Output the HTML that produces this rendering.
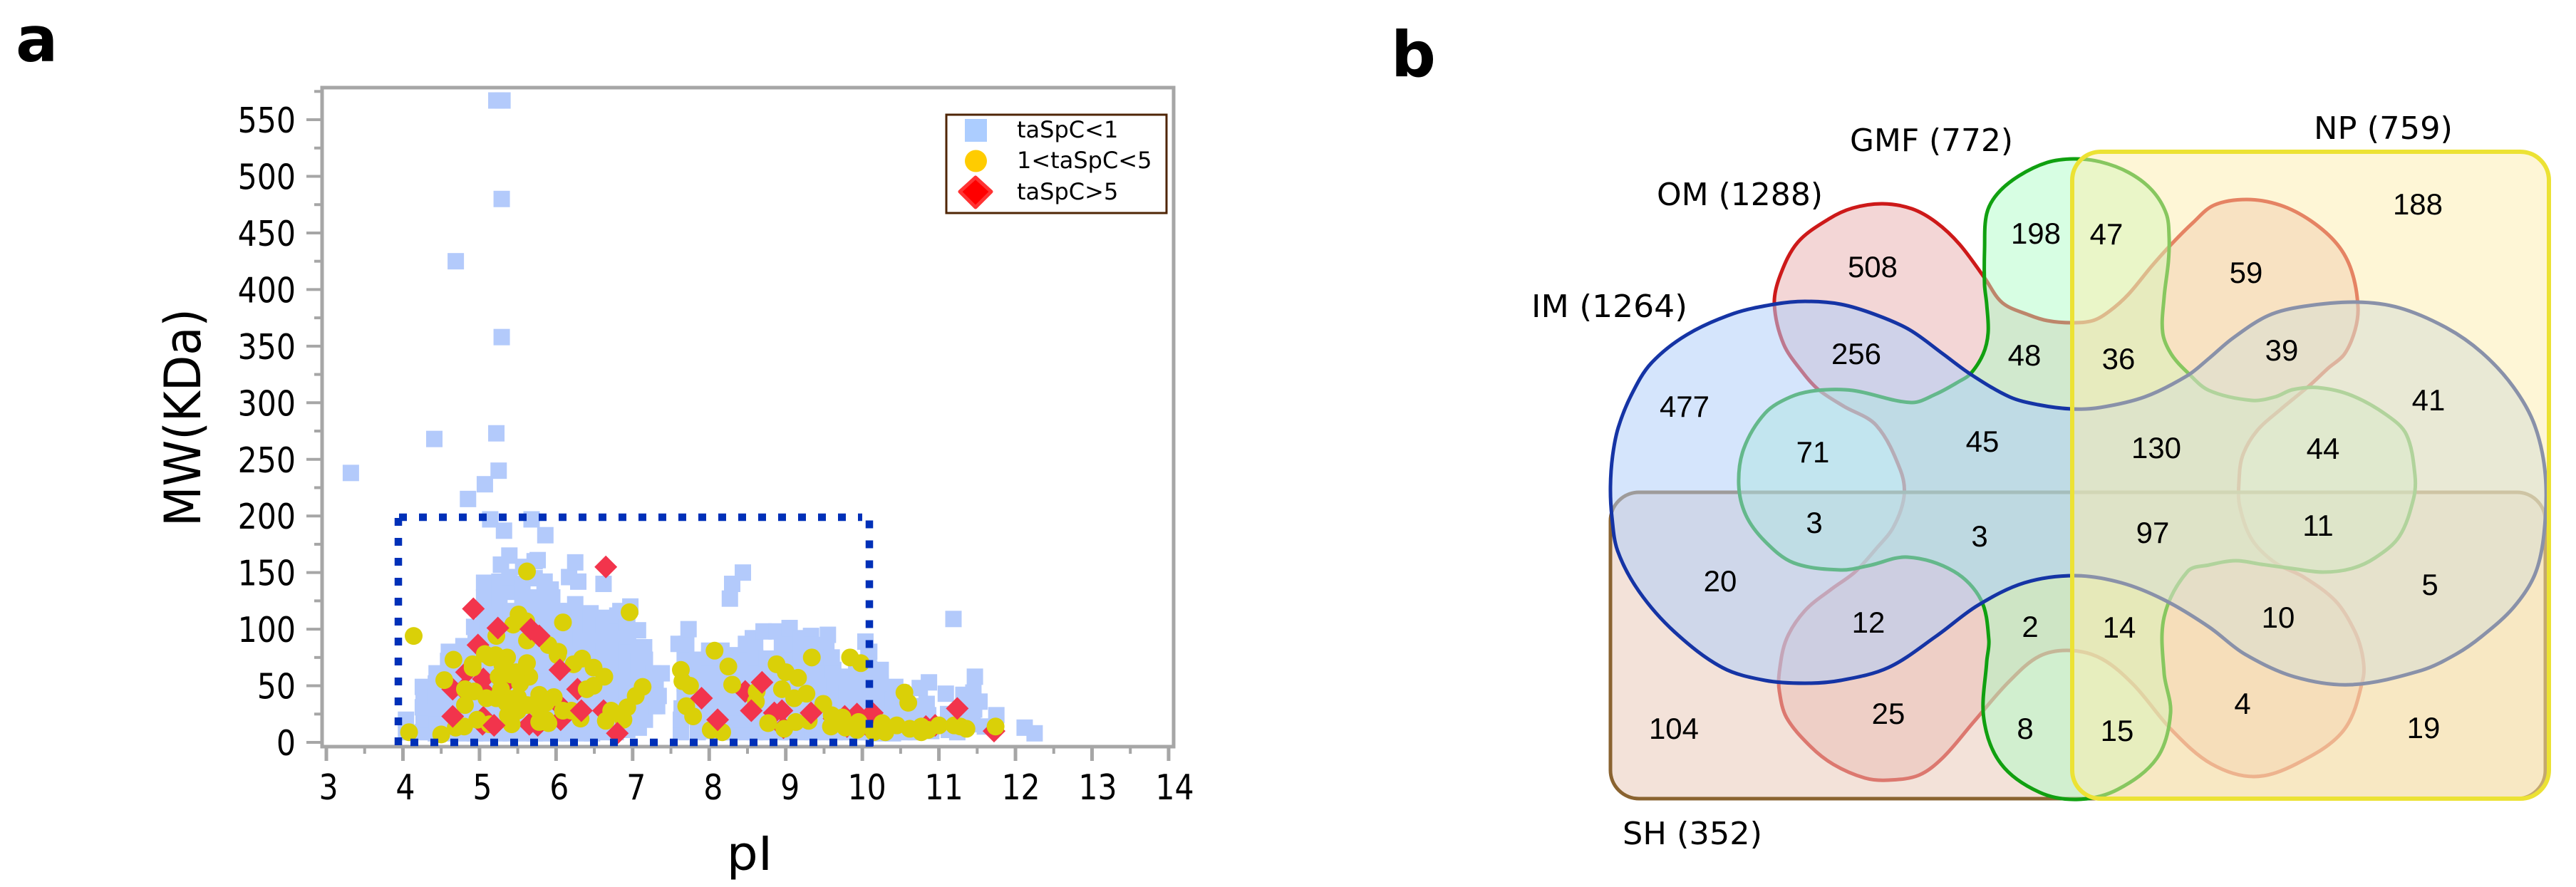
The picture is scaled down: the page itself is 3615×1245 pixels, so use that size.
<!DOCTYPE html>
<html lang="en">
<head>
<meta charset="utf-8">
<title>MW vs pI scatter and Venn diagram</title>
<style>
html,body{margin:0;padding:0;background:#fff;width:3615px;height:1245px;overflow:hidden}
svg{display:block}
text{font-family:"DejaVu Sans","Liberation Sans",sans-serif;fill:#000}
.n{font-family:"Liberation Sans",sans-serif;font-size:42px;text-anchor:middle}
.s{font-size:44px}
</style>
</head>
<body>
<svg id="fig" xmlns="http://www.w3.org/2000/svg" width="3615" height="1245" viewBox="0 0 3615 1245">
  <text x="22" y="86" font-size="88" font-weight="700">a</text>
  <text x="1952" y="107" font-size="88" font-weight="700">b</text>

  <g id="scatter"></g>

  <g id="legend">
    <rect x="1328" y="161" width="309" height="138" fill="#fff" stroke="#4f2504" stroke-width="3"/>
    <rect x="1354" y="167" width="31" height="32" fill="#accdff"/>
    <circle cx="1369.5" cy="226" r="15.5" fill="#ffcc00"/>
    <polygon points="1369,249 1391,269 1369,291 1347,269" fill="#ff0000" stroke="#ff3333" stroke-width="5" stroke-linejoin="round"/>
    <text x="1427" y="193" font-size="32">taSpC&lt;1</text>
    <text x="1427" y="236" font-size="32">1&lt;taSpC&lt;5</text>
    <text x="1427" y="280" font-size="32">taSpC&gt;5</text>
  </g>

  <g id="venn">
    <path id="v-om" fill="rgb(243,214,214)" stroke="#cd1919" stroke-width="5"/>
    <rect x="2260" y="691" width="1312" height="430" rx="40" fill="rgba(233,202,185,.54)" stroke="#8a6330" stroke-width="5"/>
    <path id="v-gmf" fill="rgba(172,253,197,.48)" stroke="#10a010" stroke-width="5"/>
    <path id="v-im" fill="rgba(175,206,249,.53)" stroke="#1534a5" stroke-width="5"/>
    <rect x="2908" y="213" width="669" height="908" rx="40" fill="rgba(253,237,173,.5)" stroke="#ece234" stroke-width="6"/>

    <text class="s" x="2325" y="288" textLength="233" lengthAdjust="spacingAndGlyphs">OM (1288)</text>
    <text class="s" x="2596" y="212" textLength="229" lengthAdjust="spacingAndGlyphs">GMF (772)</text>
    <text class="s" x="3247" y="195" textLength="195" lengthAdjust="spacingAndGlyphs">NP (759)</text>
    <text class="s" x="2149" y="445" textLength="219" lengthAdjust="spacingAndGlyphs">IM (1264)</text>
    <text class="s" x="2277" y="1185" textLength="196" lengthAdjust="spacingAndGlyphs">SH (352)</text>

    <text class="n" x="2628" y="389">508</text>
    <text class="n" x="2605" y="511">256</text>
    <text class="n" x="2364" y="585">477</text>
    <text class="n" x="2544" y="649">71</text>
    <text class="n" x="2546" y="748">3</text>
    <text class="n" x="2414" y="830">20</text>
    <text class="n" x="2622" y="888">12</text>
    <text class="n" x="2650" y="1016">25</text>
    <text class="n" x="2349" y="1037">104</text>
    <text class="n" x="2857" y="342">198</text>
    <text class="n" x="2956" y="343">47</text>
    <text class="n" x="3152" y="397">59</text>
    <text class="n" x="2841" y="513">48</text>
    <text class="n" x="2973" y="518">36</text>
    <text class="n" x="3202" y="506">39</text>
    <text class="n" x="2782" y="634">45</text>
    <text class="n" x="3026" y="643">130</text>
    <text class="n" x="3260" y="644">44</text>
    <text class="n" x="3393" y="301">188</text>
    <text class="n" x="3408" y="576">41</text>
    <text class="n" x="3253" y="752">11</text>
    <text class="n" x="3021" y="762">97</text>
    <text class="n" x="2778" y="767">3</text>
    <text class="n" x="3410" y="835">5</text>
    <text class="n" x="3197" y="881">10</text>
    <text class="n" x="2849" y="894">2</text>
    <text class="n" x="2974" y="895">14</text>
    <text class="n" x="3147" y="1002">4</text>
    <text class="n" x="3401" y="1036">19</text>
    <text class="n" x="2842" y="1037">8</text>
    <text class="n" x="2971" y="1040">15</text>
  </g>
</svg>
<script>
const xTicks = [3,4,5,6,7,8,9,10,11,12,13,14];
const yTicks = [0,50,100,150,200,250,300,350,400,450,500,550];

const lowAbundance = [
[3.32,238],[5.22,567],[5.3,567],[5.29,480],[4.69,425],[5.29,358],[4.41,268],[5.22,273],[5.25,240],[5.07,228],[4.85,215],
[5.14,197],[5.68,197],[5.32,187],[5.86,183],[11.19,109],
[4.04,9],[4.04,20],
[4.26,9],[4.27,20],[4.26,31],[4.27,42],[4.26,49],
[4.43,8],[4.44,19],[4.43,30],[4.42,41],[4.43,52],[4.44,61],
[4.6,8],[4.61,18],[4.6,29],[4.6,40],[4.61,52],[4.6,63],[4.59,72],[4.6,80],
[4.78,8],[4.78,19],[4.79,30],[4.78,41],[4.77,52],[4.78,63],[4.78,74],[4.79,85],
[4.94,8],[4.95,19],[4.95,30],[4.94,42],[4.95,53],[4.95,64],[4.94,75],[4.95,86],[4.95,97],[4.93,102],
[5.1,8],[5.1,20],[5.11,32],[5.1,44],[5.1,56],[5.1,68],[5.09,80],[5.1,92],[5.1,104],[5.06,116],[5.06,128],[5.06,141],
[5.26,8],[5.26,20],[5.25,32],[5.26,44],[5.26,56],[5.25,68],[5.26,80],[5.26,92],[5.25,104],[5.25,116],[5.26,128],[5.26,142],[5.28,157],
[5.41,8],[5.41,20],[5.42,32],[5.41,44],[5.41,56],[5.4,68],[5.41,80],[5.42,92],[5.41,104],[5.41,116],[5.42,133],[5.39,146],[5.39,165],
[5.56,8],[5.56,20],[5.57,32],[5.56,44],[5.56,56],[5.55,68],[5.56,80],[5.56,92],[5.56,104],[5.57,116],[5.56,128],[5.56,140],[5.57,155],
[5.72,8],[5.72,20],[5.73,32],[5.72,44],[5.72,56],[5.72,68],[5.72,80],[5.73,92],[5.72,104],[5.72,116],[5.72,128],[5.72,145],[5.72,160],[5.76,161],
[5.87,8],[5.87,20],[5.86,32],[5.87,44],[5.86,56],[5.87,68],[5.87,80],[5.86,92],[5.87,104],[5.87,116],[5.86,128],[5.85,142],
[6.02,8],[6.02,20],[6.02,32],[6.03,44],[6.02,56],[6.02,68],[6.02,80],[6.03,92],[6.02,104],[6.02,116],[5.95,128],[5.93,135],
[6.17,8],[6.17,20],[6.17,32],[6.18,44],[6.17,56],[6.17,68],[6.17,80],[6.18,92],[6.17,104],[6.17,116],[6.17,146],[6.25,159],[6.25,122],
[6.32,8],[6.32,20],[6.32,32],[6.33,44],[6.32,56],[6.32,68],[6.33,80],[6.32,92],[6.32,104],[6.3,110],[6.29,142],
[6.47,8],[6.47,20],[6.47,32],[6.47,44],[6.48,56],[6.47,68],[6.47,80],[6.47,92],[6.45,104],[6.45,114],
[6.62,9],[6.62,20],[6.62,32],[6.63,44],[6.62,56],[6.62,68],[6.62,80],[6.63,92],[6.62,104],[6.65,110],[6.62,140],
[6.78,9],[6.78,20],[6.78,32],[6.79,44],[6.78,56],[6.78,68],[6.78,80],[6.79,92],[6.78,104],[6.8,112],
[6.93,11],[6.93,22],[6.93,34],[6.93,46],[6.94,58],[6.93,70],[6.93,82],[6.94,94],[6.93,106],[6.84,116],[6.97,120],
[7.08,13],[7.08,24],[7.08,36],[7.09,48],[7.08,60],[7.08,72],[7.09,84],[7.07,99],
[7.16,20],[7.17,33],[7.16,46],[7.16,59],[7.16,73],[7.15,84],
[7.28,32],[7.3,41],[7.3,52],[7.34,41],[7.32,32],[7.38,61],[7.27,61],
[7.63,9],[7.63,20],[7.64,30],[7.68,40],[7.68,52],[7.68,64],[7.68,75],[7.6,87],[7.7,87],[7.73,100],
[7.85,9],[7.85,20],[7.86,31],[7.85,42],[7.85,53],[7.86,64],[7.85,73],
[8.0,10],[8.0,20],[8.01,31],[8.0,42],[8.0,53],[8.01,64],[8.0,75],[8.0,81],
[8.16,9],[8.16,20],[8.17,31],[8.16,42],[8.16,53],[8.17,64],[8.16,75],[8.16,81],
[8.3,9],[8.3,20],[8.31,31],[8.3,42],[8.3,53],[8.31,64],[8.28,77],[8.27,127],[8.3,140],[8.44,150],
[8.45,9],[8.45,20],[8.46,31],[8.45,42],[8.45,53],[8.46,64],[8.45,76],[8.48,87],
[8.6,9],[8.6,20],[8.61,31],[8.6,42],[8.6,53],[8.61,64],[8.6,75],[8.57,92],[8.6,85],
[8.75,9],[8.75,20],[8.76,31],[8.75,42],[8.75,53],[8.76,64],[8.75,74],[8.71,98],
[8.92,9],[8.92,20],[8.93,31],[8.92,42],[8.92,53],[8.93,64],[8.92,74],[8.88,98],[8.95,87],
[9.06,9],[9.06,20],[9.07,31],[9.06,42],[9.06,53],[9.07,64],[9.06,75],[9.06,87],[9.05,101],
[9.2,9],[9.2,20],[9.21,31],[9.2,42],[9.2,53],[9.21,64],[9.2,75],[9.2,85],[9.2,92],
[9.35,9],[9.35,20],[9.36,31],[9.35,42],[9.35,53],[9.36,64],[9.33,76],[9.33,94],[9.34,86],
[9.5,9],[9.5,20],[9.51,31],[9.5,42],[9.5,53],[9.51,64],[9.53,75],[9.53,85],[9.55,95],
[9.64,9],[9.64,20],[9.65,31],[9.64,42],[9.64,53],[9.62,64],[9.6,75],
[9.79,9],[9.79,20],[9.8,31],[9.79,42],[9.79,52],[9.78,58],
[9.93,9],[9.93,20],[9.94,31],[9.93,42],[9.93,53],[9.92,65],
[10.08,9],[10.08,20],[10.09,31],[10.08,42],[10.08,53],[10.09,65],[10.08,75],[10.09,80],[10.04,89],
[10.24,8],[10.24,19],[10.25,30],[10.24,41],[10.24,52],[10.24,64],
[10.4,8],[10.4,18],[10.41,28],[10.4,38],[10.43,49],
[10.55,9],[10.55,20],[10.56,31],[10.51,44],
[10.7,9],[10.7,20],[10.71,32],[10.75,48],[10.87,53],[10.84,34],[10.8,18],[10.9,10],[10.86,24],
[11.09,43],[11.12,25],[11.13,11],[11.24,9],[11.32,42],[11.45,44],[11.47,58],[11.53,36],[11.46,29],[11.44,16],[11.33,22],[11.36,32],[11.25,20],
[11.75,24],[11.6,14],[12.12,13],[12.25,8]
];

const midAbundance = [
[5.62,151],[4.14,94],[4.08,9],[4.5,7],[4.69,13],[4.66,73],[4.54,55],[5.51,113],[5.44,104],[5.61,107],[5.22,94],[5.62,90],[5.9,86],[6.02,77],[6.09,106],
[4.91,69],[5.07,78],[5.14,75],[5.36,75],[5.62,70],[5.48,62],[5.65,58],[5.53,52],[5.25,58],[5.25,41],[5.37,39],[4.81,47],[4.93,45],[5.09,39],[4.81,33],
[5.37,24],[5.42,16],[4.97,20],[5.62,33],[5.78,42],[5.97,40],[5.78,28],[5.9,17],[6.09,28],[4.8,14],[5.13,16],
[5.21,77],[5.41,60],[5.28,47],[5.35,35],[5.22,39],[5.41,20],[5.69,33],[5.87,35],[5.87,20],[5.78,18],[4.91,66],[5.3,68],[5.5,40],[5.5,28],
[6.96,115],[6.03,80],[6.23,69],[6.34,74],[6.49,66],[6.63,58],[6.49,50],[6.4,47],[6.2,28],[6.32,21],[6.72,28],[6.65,19],[6.88,20],[6.93,31],[7.04,41],[7.13,49],
[7.63,64],[7.65,54],[7.75,50],[7.7,32],[7.79,23],[8.02,11],[8.17,9],[8.07,81],[8.25,67],[8.3,51],
[8.61,36],[8.62,45],[9.34,75],[8.88,69],[9.0,62],[9.16,57],[8.95,47],[9.11,39],[9.27,43],[8.77,17],[9.13,18],[9.3,19],[8.98,12],
[9.49,34],[9.59,14],[9.6,24],[9.74,22],[9.84,75],[9.98,70],[9.78,13],[9.95,18],[9.93,11],[10.15,9],[10.26,17],[10.3,9],[10.45,15],
[10.55,44],[10.6,35],[10.62,12],[10.77,14],[10.77,9],[10.86,11],[11.0,15],[11.2,15],[11.28,14],[11.36,12],[11.74,14]
];

const highBehind = [
[4.98,86],[4.65,47],[4.83,62],[5.05,56],[5.35,53],[4.79,47],[5.06,45],[5.05,22],[5.04,16],[5.65,16],[5.76,15],[6.28,47],[6.03,34],[6.06,20],[6.62,28],
[8.47,45],[8.95,28],[8.85,26],[8.97,13],[9.63,21],[9.77,23],[9.93,25],[10.13,26],[9.8,14],[10.04,16],[10.83,14],[10.95,15],[11.72,10]
];

const highFront = [
[6.65,155],[4.92,118],[5.24,101],[5.67,100],[5.78,94],[6.05,64],[4.65,23],[5.19,15],[6.33,28],[6.8,8],[7.9,39],[8.11,20],[8.69,53],[8.55,28],[9.33,26],[11.24,30]
];

const imOutline = [[2260,683],[2263,640],[2271,600],[2290,553],[2317,510],[2367,470],[2433,440],[2490,427],[2533,423],[2583,427],[2633,442],[2680,463],[2727,497],[2765,525],[2820,557],[2860,568],[2907,574],[2947,572],[3010,557],[3070,527],[3100,503],[3133,475],[3183,443],[3233,430],[3307,424],[3367,432],[3433,460],[3483,495],[3527,543],[3557,597],[3572,667],[3570,750],[3557,807],[3527,853],[3483,893],[3447,918],[3398,941],[3300,961],[3220,950],[3150,918],[3100,880],[3037,842],[2977,818],[2912,808],[2841,818],[2775,850],[2717,893],[2650,937],[2583,955],[2533,959],[2477,955],[2417,937],[2350,887],[2300,830],[2270,773],[2262,725]];
const omOutline = [[2490,427],[2498,387],[2523,340],[2567,307],[2600,292],[2642,286],[2683,293],[2717,312],[2750,343],[2785,390],[2810,425],[2847,442],[2873,450],[2907,453],[2937,450],[2960,437],[2987,413],[3020,373],[3047,343],[3077,313],[3107,288],[3153,280],[3200,288],[3243,310],[3280,343],[3300,380],[3309,430],[3305,463],[3290,497],[3267,517],[3240,542],[3200,575],[3167,605],[3147,640],[3142,677],[3143,710],[3160,757],[3193,790],[3233,810],[3277,843],[3303,883],[3315,918],[3316,953],[3289,1025],[3223,1072],[3163,1090],[3103,1072],[3048,1025],[2994,961],[2950,925],[2906,913],[2862,921],[2819,957],[2770,1013],[2727,1063],[2693,1088],[2650,1095],[2617,1092],[2573,1073],[2540,1047],[2507,1007],[2497,970],[2497,943],[2507,897],[2533,857],[2570,827],[2603,803],[2633,770],[2657,740],[2672,697],[2667,660],[2633,597],[2587,570],[2552,547],[2530,523],[2503,483]];
const gmfOutline = [[2785,400],[2785,350],[2788,300],[2803,272],[2833,247],[2873,228],[2910,223],[2947,227],[2987,242],[3020,267],[3040,300],[3044,333],[3043,367],[3037,417],[3035,467],[3047,497],[3070,523],[3100,548],[3160,562],[3193,557],[3217,547],[3253,544],[3300,555],[3350,583],[3377,610],[3389,667],[3387,700],[3367,753],[3333,783],[3300,798],[3260,803],[3217,798],[3173,792],[3137,787],[3100,793],[3070,802],[3037,866],[3037,945],[3046,1001],[3027,1064],[2972,1108],[2917,1122],[2862,1112],[2808,1072],[2784,1009],[2788,929],[2791,898],[2780,842],[2742,802],[2677,782],[2622,794],[2583,800],[2517,790],[2477,760],[2450,723],[2440,680],[2447,630],[2477,580],[2513,557],[2550,548],[2600,548],[2682,565],[2717,553],[2750,535],[2765,525],[2783,497],[2790,467],[2788,427]];

const NS = 'http://www.w3.org/2000/svg';
const root = document.getElementById('scatter');
const X = v => 458 + (v - 3) * 107.45;
const Y = v => 1042 - v * 1.589;

function mk(tag, attrs, parent) {
  const el = document.createElementNS(NS, tag);
  for (const k in attrs) el.setAttribute(k, attrs[k]);
  (parent || root).appendChild(el);
  return el;
}

function unit(a, b) {
  const dx = b[0] - a[0], dy = b[1] - a[1], l = Math.hypot(dx, dy) || 1;
  return [dx / l, dy / l];
}

function smooth(p) {
  const n = p.length;
  let d = 'M' + p[0][0] + ' ' + p[0][1];
  for (let i = 0; i < n; i++) {
    const a = p[(i - 1 + n) % n], b = p[i], c = p[(i + 1) % n], e = p[(i + 2) % n];
    const len = Math.hypot(c[0] - b[0], c[1] - b[1]) / 3;
    const t1 = unit(a, c), t2 = unit(b, e);
    d += 'C' + (b[0] + t1[0] * len).toFixed(1) + ' ' + (b[1] + t1[1] * len).toFixed(1) + ' ' +
         (c[0] - t2[0] * len).toFixed(1) + ' ' + (c[1] - t2[1] * len).toFixed(1) + ' ' + c[0] + ' ' + c[1];
  }
  return d + 'Z';
}
document.getElementById('v-im').setAttribute('d', smooth(imOutline));
document.getElementById('v-om').setAttribute('d', smooth(omOutline));
document.getElementById('v-gmf').setAttribute('d', smooth(gmfOutline));

const frame = mk('rect', {x: 452, y: 123, width: 1195, height: 925, fill: '#fff', stroke: '#a6a6a6', 'stroke-width': 5});



xTicks.forEach((v, i) => {
  const t = mk('line', {x1: X(v), x2: X(v), y1: 1048, y2: 1068, stroke: '#a6a6a6', 'stroke-width': 5});
  
  
  if (i < xTicks.length - 1) {
    const m = mk('line', {x1: X(v + 0.5), x2: X(v + 0.5), y1: 1048, y2: 1058, stroke: '#a6a6a6', 'stroke-width': 4});
    
    
  }
  const lx = X(v) + 3 + 0.5 * (v - 3);
  const l = mk('text', {transform: 'translate(' + lx + ',1122) scale(.87,1)', 'text-anchor': 'middle', 'font-size': 49});
  l.textContent = String(v);
  
  
});

yTicks.forEach(v => {
  const t = mk('line', {x1: 430, x2: 452, y1: Y(v), y2: Y(v), stroke: '#a6a6a6', 'stroke-width': 4});
  
  
  const m = mk('line', {x1: 441, x2: 452, y1: Y(v + 25), y2: Y(v + 25), stroke: '#a6a6a6', 'stroke-width': 4});
  
  
  const l = mk('text', {transform: 'translate(415,' + (Y(v) + 18) + ') scale(.87,1)', 'text-anchor': 'end', 'font-size': 49});
  l.textContent = String(v);
  
  
});

lowAbundance.forEach(d => {
  const s = mk('rect', {x: X(d[0]) - 11.5, y: Y(d[1]) - 11.5, width: 23, height: 23, fill: '#b3cafb'});
  
  
});

function diamond(d) {
  const cx = X(d[0]), cy = Y(d[1]), r = 16;
  const p = mk('polygon', {points: cx + ',' + (cy - r) + ' ' + (cx + r) + ',' + cy + ' ' + cx + ',' + (cy + r) + ' ' + (cx - r) + ',' + cy, fill: '#f2344c'});
  
  
}
highBehind.forEach(diamond);

midAbundance.forEach(d => {
  const c = mk('circle', {cx: X(d[0]), cy: Y(d[1]), r: 12.5, fill: '#dad008'});
  
  
});

highFront.forEach(diamond);

const dotted = {fill: 'none', stroke: '#0030b8', 'stroke-width': 10.5, 'stroke-dasharray': '11 17'};
const boxSides = [
  {x1: 559, y1: 727, x2: 559, y2: 1048},
  {x1: 560, y1: 726, x2: 1210, y2: 726},
  {x1: 576, y1: 1042, x2: 1226, y2: 1042},
  {x1: 1220, y1: 730.5, x2: 1220, y2: 1048}
];
boxSides.forEach(s => {
  const l = mk('line', Object.assign({}, s, dotted));
  
  
});

const xt = mk('text', {transform: 'translate(1052,1221) scale(1.05,1)', 'text-anchor': 'middle', 'font-size': 66});
xt.textContent = 'pI';



const yt = mk('text', {transform: 'translate(281,586) rotate(-90)', 'text-anchor': 'middle', 'font-size': 70, textLength: 306, lengthAdjust: 'spacingAndGlyphs'});
yt.textContent = 'MW(KDa)';


</script>
</body>
</html>
